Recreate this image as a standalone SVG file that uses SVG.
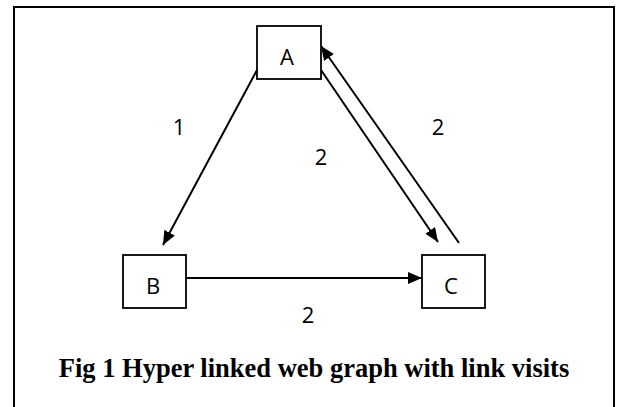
<svg xmlns="http://www.w3.org/2000/svg" width="618" height="407" viewBox="0 0 618 407">
<defs>
<marker id="arr" viewBox="0 0 14 12" refX="14" refY="6" markerWidth="14" markerHeight="12" markerUnits="userSpaceOnUse" orient="auto">
<path d="M0,0 L14,6 L0,12 z" fill="#000"/>
</marker>
<style>
.box{fill:#fff;stroke:#000;stroke-width:1.8}
.lbl{font-family:"Open Sans","Noto Sans",sans-serif;font-size:22px;fill:#000;text-anchor:middle}
.edge{stroke:#000;stroke-width:2;fill:none;marker-end:url(#arr)}
.cap{font-family:"Liberation Serif","Times New Roman",serif;font-weight:bold;font-size:26.5px;fill:#000;text-anchor:middle}
</style>
</defs>
<rect width="618" height="407" fill="#fff"/>
<path d="M14,410 L14,7 L614,7 L614,410" fill="none" stroke="#000" stroke-width="2"/>
<g id="edges">
<line class="edge" x1="257" y1="70" x2="163" y2="245"/>
<line class="edge" x1="321" y1="70" x2="438" y2="242"/>
<line class="edge" x1="459" y1="243" x2="321" y2="46"/>
<line class="edge" x1="186" y1="278" x2="422" y2="278"/>
<text class="lbl" x="179" y="135">1</text>
<text class="lbl" x="321" y="165">2</text>
<text class="lbl" x="438" y="135">2</text>
<text class="lbl" x="308" y="323">2</text>
</g>
<g id="A"><rect class="box" x="257" y="26" width="64" height="53"/><text class="lbl" x="287" y="65">A</text></g>
<g id="B"><rect class="box" x="123" y="255" width="63" height="53"/><text class="lbl" x="153" y="294">B</text></g>
<g id="C"><rect class="box" x="422" y="255" width="63" height="53"/><text class="lbl" x="451" y="294">C</text></g>
<text class="cap" x="314" y="377">Fig 1 Hyper linked web graph with link visits</text>
</svg>
